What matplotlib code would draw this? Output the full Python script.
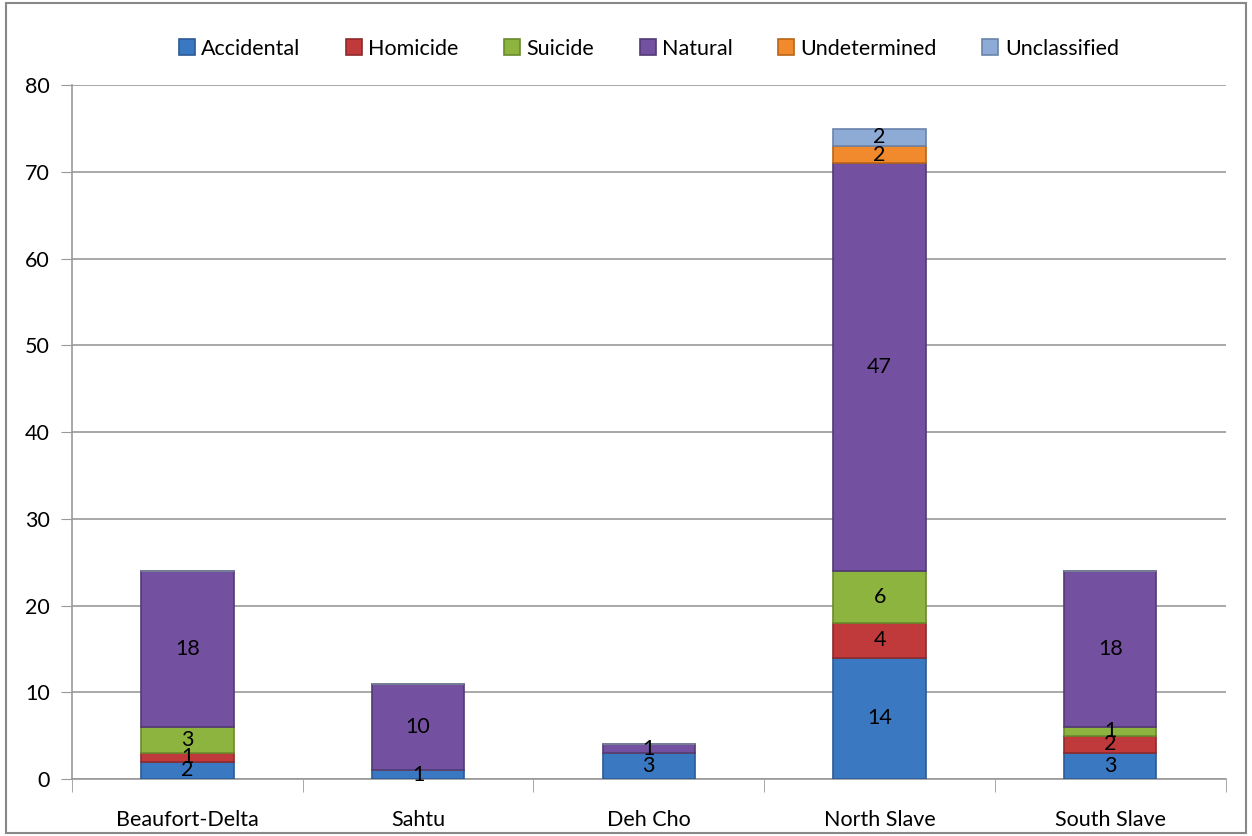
import matplotlib.pyplot as plt
import numpy as np
from matplotlib.patches import Rectangle

plt.rcParams['font.family'] = ['Lato', 'DejaVu Sans']

regions = ['Beaufort-Delta', 'Sahtu', 'Deh Cho', 'North Slave', 'South Slave']
causes = ['Accidental', 'Homicide', 'Suicide', 'Natural', 'Undetermined', 'Unclassified']
accidental = [2, 1, 3, 14, 3]
homicide = [1, 0, 0, 4, 2]
suicide = [3, 0, 0, 6, 1]
natural = [18, 10, 1, 47, 18]
undetermined = [0, 0, 0, 2, 0]
unclassified = [0, 0, 0, 2, 0]

series = [accidental, homicide, suicide, natural, undetermined, unclassified]
colors = ['#3B78C2', '#C0393B', '#8DB43E', '#7451A0', '#F08A2C', '#8EABD6']
edges = ['#2A5A94', '#8E2A2C', '#6A8A2C', '#533977', '#B86518', '#6A84AA']

fig = plt.figure(figsize=(12.52, 8.36), dpi=100)
fig.patches.append(Rectangle((0.005, 0.004), 0.99, 0.992, transform=fig.transFigure,
                             fill=False, edgecolor='#888888', linewidth=1.5))
ax = fig.add_axes([0.0575, 0.068, 0.9215, 0.830])

x = np.arange(len(regions))
bottom = np.zeros(len(regions))
for name, vals, c, ec in zip(causes, series, colors, edges):
    vals = np.array(vals, dtype=float)
    ax.bar(x, vals, 0.4, bottom=bottom, color=c, edgecolor=ec,
           linewidth=1.2, label=name, zorder=3)
    for xi, b, v in zip(x, bottom, vals):
        if v > 0:
            ax.text(xi, b + v / 2, f'{int(v)}', ha='center', va='center',
                    fontsize=15.5, color='black', zorder=5)
    bottom += vals

ax.set_xlim(-0.5, 4.5)
ax.set_ylim(0, 80)
ax.set_yticks(range(0, 81, 10))
ax.set_xticks(x)
ax.set_xticklabels(regions)
ax.set_xticks(np.arange(-0.5, 5, 1), minor=True)
ax.tick_params(axis='x', which='major', length=0, labelsize=15.5, pad=22)
ax.tick_params(axis='x', which='minor', length=9, color='#999999')
ax.tick_params(axis='y', length=8, color='#999999', labelsize=15.5, pad=8)
ax.grid(axis='y', color='#999999', linewidth=1.2, zorder=0)
for s in ['top', 'right']:
    ax.spines[s].set_visible(False)
for s in ['left', 'bottom']:
    ax.spines[s].set_color('#999999')
    ax.spines[s].set_linewidth(1.2)

ax.legend(loc='upper center', bbox_to_anchor=(0.5, 1.095), ncol=6, frameon=False,
          fontsize=15.5, handlelength=0.75, handleheight=0.75, handletextpad=0.3,
          columnspacing=2.1)

fig.savefig('out.png', dpi=100)
